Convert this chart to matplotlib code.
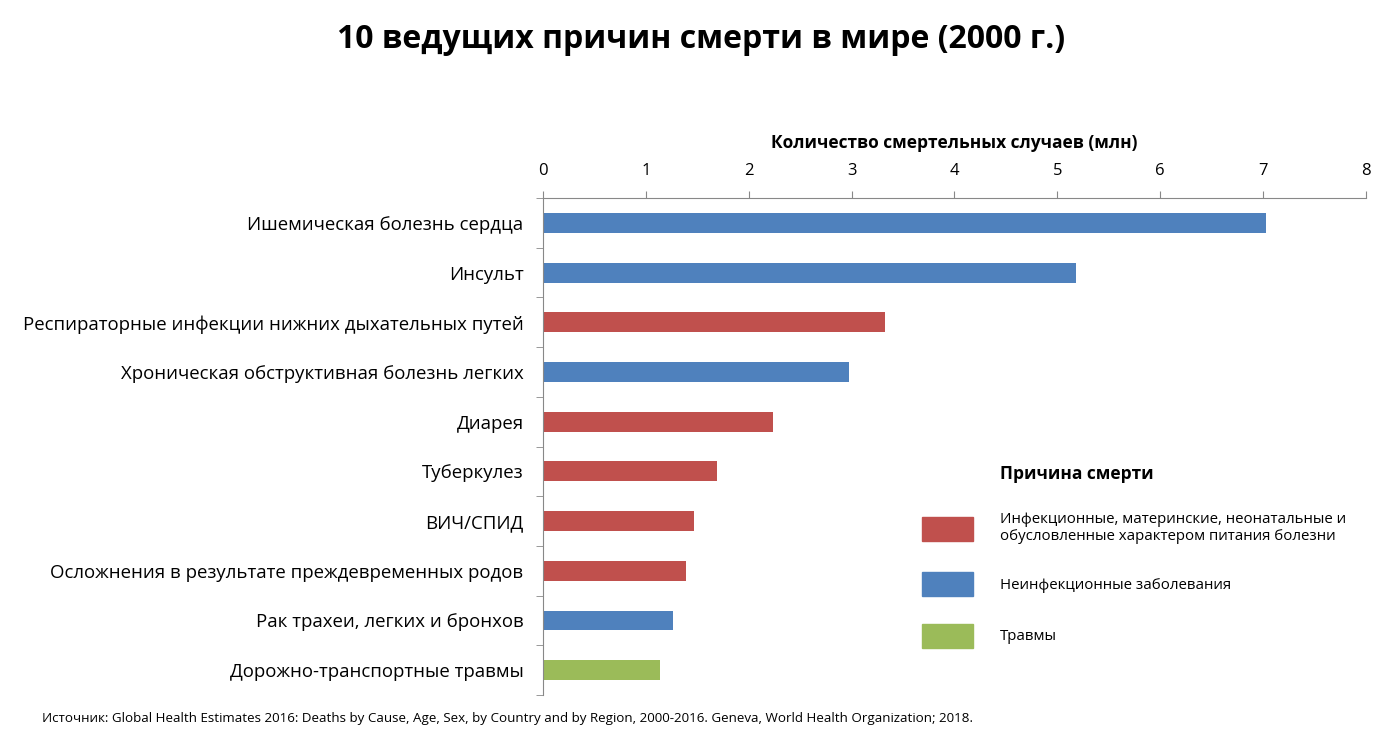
import matplotlib
matplotlib.use("Agg")
import matplotlib.pyplot as plt
from matplotlib.patches import Patch

plt.rcParams['font.family'] = ['Open Sans', 'DejaVu Sans']

causes = [
    "Ишемическая болезнь сердца",
    "Инсульт",
    "Респираторные инфекции нижних дыхательных путей",
    "Хроническая обструктивная болезнь легких",
    "Диарея",
    "Туберкулез",
    "ВИЧ/СПИД",
    "Осложнения в результате преждевременных родов",
    "Рак трахеи, легких и бронхов",
    "Дорожно-транспортные травмы",
]
deaths = [7.03, 5.18, 3.32, 2.97, 2.24, 1.69, 1.47, 1.39, 1.26, 1.14]
groups = ["ncd", "ncd", "inf", "ncd", "inf", "inf", "inf", "inf", "ncd", "inj"]

group_names = {
    "inf": "Инфекционные, материнские, неонатальные и\nобусловленные характером питания болезни",
    "ncd": "Неинфекционные заболевания",
    "inj": "Травмы",
}
group_colors = {"inf": "#C0504D", "ncd": "#4F81BD", "inj": "#9BBB59"}

fig = plt.figure(figsize=(13.88, 7.56), dpi=100)
ax = fig.add_axes([0.3912, 0.0807, 0.9841 - 0.3912, 0.738 - 0.0807])

ypos = list(range(len(causes)))
ax.barh(ypos, deaths, height=0.4, color=[group_colors[g] for g in groups])
ax.set_ylim(len(causes) - 0.5, -0.5)
ax.set_xlim(0, 8)
ax.set_yticks(ypos)
ax.set_yticklabels(causes, fontsize=13.4)
ax.set_yticks([i - 0.5 for i in range(len(causes) + 1)], minor=True)
ax.tick_params(axis='y', which='major', length=0, pad=14)
ax.tick_params(axis='y', which='minor', length=5, color='#888888')
ax.xaxis.tick_top()
ax.xaxis.set_label_position('top')
ax.set_xticks(range(9))
ax.tick_params(axis='x', length=5, color='#888888', labelsize=12, pad=9)
ax.set_xlabel("Количество смертельных случаев (млн)", fontsize=12.5, fontweight='bold', labelpad=10.5)
for s in ['right', 'bottom']:
    ax.spines[s].set_visible(False)
for s in ['top', 'left']:
    ax.spines[s].set_color('#888888')

fig.text(0.505, 0.948, "10 ведущих причин смерти в мире (2000 г.)", ha='center', va='center',
         fontsize=23, fontweight='bold')

# legend: title placed separately so it lines up with the labels
fig.text(1000 / 1388, 1 - 474 / 756, "Причина смерти", fontsize=12.5, fontweight='bold', va='center')
handles = [Patch(color=group_colors[k], label=group_names[k]) for k in ["inf", "ncd", "inj"]]
leg = fig.legend(handles=handles, loc='upper left', bbox_to_anchor=(0.659, 0.333),
                 frameon=False, fontsize=10.8, handlelength=3.4, handleheight=2.1,
                 handletextpad=1.8, labelspacing=1.85, borderpad=0)

fig.text(0.03, 0.049, "Источник: Global Health Estimates 2016: Deaths by Cause, Age, Sex, by Country and by Region, "
         "2000-2016. Geneva, World Health Organization; 2018.", fontsize=9.6, va='center')

fig.savefig("out.png", dpi=100)
